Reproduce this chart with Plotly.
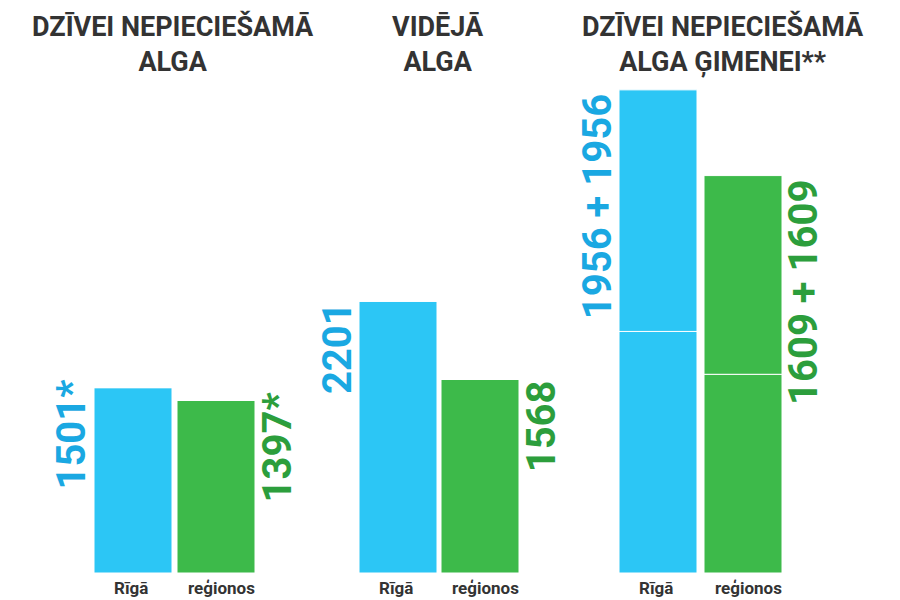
import plotly.graph_objects as go

groups = ["DZĪVEI NEPIECIEŠAMĀ<br>ALGA", "VIDĒJĀ<br>ALGA", "DZĪVEI NEPIECIEŠAMĀ<br>ALGA ĢIMENEI**"]
riga_vals = [1501, 2201, 1956]
reg_vals = [1397, 1568, 1609]
riga_extra = [0, 0, 1956]
reg_extra = [0, 0, 1609]
riga_labels = ["1501*", "2201", "1956 + 1956"]
reg_labels = ["1397*", "1568", "1609 + 1609"]
cat_labels = ["Rīgā", "reģionos"]

blue, green = "#2cc6f5", "#3dba4a"
blue_t, green_t = "#1aa8e2", "#2c9e3c"
xb = [125, 390, 650]
xg = [208, 472, 735]
title_x = [165, 430, 715]
W = 78
ppu = 0.1235  # pixels per unit
ymin = -35 / ppu
ymax = ymin + 600 / ppu

fig = go.Figure()
fig.add_bar(x=xb, y=riga_vals, width=W, marker=dict(color=blue, line=dict(color="white", width=1)))
fig.add_bar(x=xg, y=reg_vals, width=W, marker=dict(color=green, line=dict(color="white", width=1)))
fig.add_bar(x=xb, y=riga_extra, base=riga_vals, width=W, marker=dict(color=blue, line=dict(color="white", width=1)))
fig.add_bar(x=xg, y=reg_extra, base=reg_vals, width=W, marker=dict(color=green, line=dict(color="white", width=1)))

ann = []
for i in range(3):
    ann.append(dict(x=title_x[i], y=ymax - 36 / ppu, text="<b>" + groups[i] + "</b>", showarrow=False,
                    font=dict(size=27, color="#333", family="Roboto"), yanchor="middle"))
    top_b = riga_vals[i] + riga_extra[i]
    top_g = reg_vals[i] + reg_extra[i]
    off = 950 if i == 2 else 380
    ann.append(dict(x=xb[i] - W / 2 - 22, y=top_b - off, text="<b>" + riga_labels[i] + "</b>",
                    textangle=-90, showarrow=False, font=dict(size=40, color=blue_t, family="Roboto")))
    ann.append(dict(x=xg[i] + W / 2 + 22, y=top_g - off, text="<b>" + reg_labels[i] + "</b>",
                    textangle=-90, showarrow=False, font=dict(size=40, color=green_t, family="Roboto")))
    ann.append(dict(x=xb[i] - 2, y=ymin + 8 / ppu, yanchor="bottom", text="<b>" + cat_labels[0] + "</b>", showarrow=False,
                    font=dict(size=17, color="#333", family="Roboto")))
    ann.append(dict(x=xg[i] + 5, y=ymin + 8 / ppu, yanchor="bottom", text="<b>" + cat_labels[1] + "</b>", showarrow=False,
                    font=dict(size=17, color="#333", family="Roboto")))

fig.update_layout(
    width=900, height=600, margin=dict(l=0, r=0, t=0, b=0),
    paper_bgcolor="white", plot_bgcolor="white", showlegend=False, barmode="overlay",
    xaxis=dict(range=[0, 900], visible=False),
    yaxis=dict(range=[ymin, ymax], visible=False),
    annotations=ann,
)
fig.write_html("out.html")
